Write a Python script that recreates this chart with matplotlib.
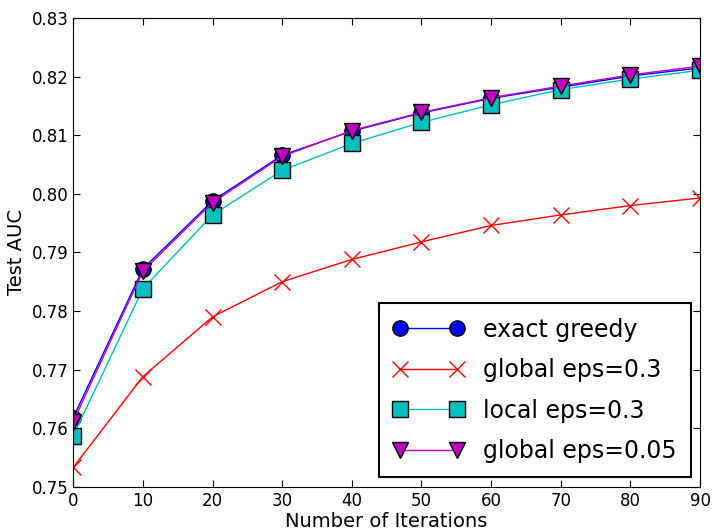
import matplotlib
matplotlib.use("Agg")
import matplotlib.pyplot as plt

iters = [0, 10, 20, 30, 40, 50, 60, 70, 80, 90]
exact_greedy = [0.7618, 0.7872, 0.7988, 0.8066, 0.8107, 0.8138, 0.8163, 0.8182, 0.8201, 0.8215]
global_03 = [0.7533, 0.7688, 0.7790, 0.7850, 0.7888, 0.7918, 0.7946, 0.7964, 0.7980, 0.7993]
local_03 = [0.7587, 0.7838, 0.7964, 0.8040, 0.8086, 0.8122, 0.8152, 0.8178, 0.8196, 0.8211]
global_005 = [0.7611, 0.7868, 0.7985, 0.8064, 0.8108, 0.8139, 0.8164, 0.8184, 0.8203, 0.8218]

fig = plt.figure(figsize=(7.18, 5.32), dpi=100)
ax = fig.add_axes([0.102, 0.085, 0.873, 0.881])
ax.plot(iters, exact_greedy, 'b-o', ms=11, mec='k', lw=1, label='exact greedy')
ax.plot(iters, global_03, 'r-x', ms=11, lw=1, label='global eps=0.3')
ax.plot(iters, local_03, '-s', color='c', mfc='c', mec='k', ms=11, lw=1, label='local eps=0.3')
ax.plot(iters, global_005, '-v', color='m', mfc='m', mec='k', ms=11, lw=1, label='global eps=0.05')
ax.set_xlim(0, 90)
ax.set_ylim(0.75, 0.83)
ax.set_xticks(iters)
ax.set_yticks([0.75 + 0.01 * i for i in range(9)])
ax.tick_params(direction='in', top=True, right=True, labelsize=12, length=5)
ax.set_xlabel('Number of Iterations', fontsize=14, labelpad=2)
ax.set_ylabel('Test AUC', fontsize=14)
leg = ax.legend(loc='lower right', fontsize=17, fancybox=False, framealpha=1, edgecolor='k',
                borderaxespad=0.4, numpoints=2, handlelength=3, labelspacing=0.7,
                borderpad=0.6)
leg.get_frame().set_linewidth(1.5)
fig.savefig('out.png', dpi=100)
